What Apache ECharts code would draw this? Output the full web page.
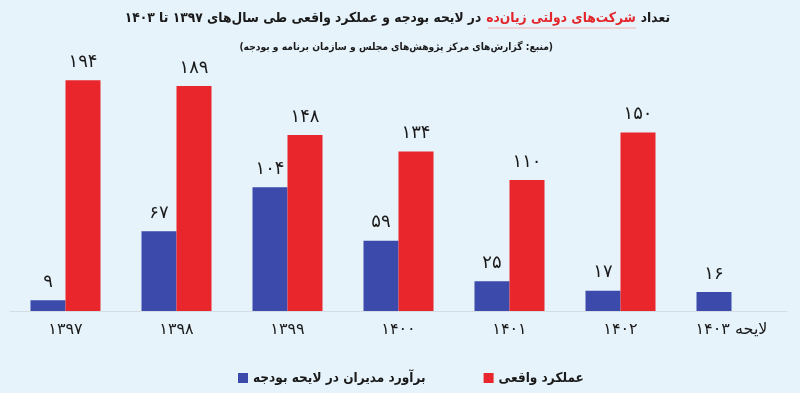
<!DOCTYPE html>
<html>
<head>
<meta charset="utf-8">
<script src="https://cdn.jsdelivr.net/npm/echarts@6/dist/echarts.min.js"></script>
<style>
  html, body { margin: 0; padding: 0; background: #e6f3fa; }
  #chart { width: 800px; height: 393px; direction: rtl; }
</style>
</head>
<body>
<div id="chart"></div>
<script>
const categories = ['۱۳۹۷', '۱۳۹۸', '۱۳۹۹', '۱۴۰۰', '۱۴۰۱', '۱۴۰۲', 'لایحه ۱۴۰۳'];
const budgetEstimate = [9, 67, 104, 59, 25, 17, 16];
const actualPerformance = [194, 189, 148, 134, 110, 150, null];
const seriesNames = ['برآورد مدیران در لایحه بودجه', 'عملکرد واقعی'];
const titleStart = 'تعداد';
const titleHighlight = 'شرکت‌های دولتی زیان‌ده';
const titleEnd = 'در لایحه بودجه و عملکرد واقعی طی سال‌های ۱۳۹۷ تا ۱۴۰۳';
const subtitle = '(منبع: گزارش‌های مرکز پژوهش‌های مجلس و سازمان برنامه و بودجه)';

const fa = n => String(n).replace(/\d/g, d => '۰۱۲۳۴۵۶۷۸۹'[d]);
const FONT = 'DejaVu Sans';
const FONTC = 'DejaVu Sans Condensed';

const chart = echarts.init(document.getElementById('chart'));
chart.setOption({
  backgroundColor: '#e6f3fa',
  title: [{
    text: '{a|' + titleEnd + '}{r|' + titleHighlight + '}{a|' + titleStart + '}',
    right: 125, top: 6,
    textStyle: {
      rich: {
        a: { fontFamily: FONTC, fontWeight: 'bold', fontSize: 13.7, color: '#1a1a1a' },
        r: { fontFamily: FONTC, fontWeight: 'bold', fontSize: 13.7, color: '#e3262c', padding: [0, 5] }
      }
    }
  }, {
    text: subtitle,
    right: 242, top: 37,
    textStyle: { fontFamily: FONTC, fontWeight: 'bold', fontSize: 10.2, color: '#1a1a1a' }
  }],
  graphic: [{
    type: 'line', silent: true,
    shape: { x1: 488, y1: 28, x2: 636, y2: 28 },
    style: { stroke: '#f2b3b5', lineWidth: 1 }
  }],
  legend: {
    left: 233, top: 366,
    itemWidth: 10, itemHeight: 10, itemGap: 58,
    icon: 'rect',
    textStyle: { fontFamily: FONTC, fontWeight: 'bold', fontSize: 13.5, color: '#1a1a1a' },
    data: seriesNames
  },
  grid: { left: 10, right: 13, top: 73, bottom: 82 },
  xAxis: {
    type: 'category',
    data: categories,
    axisLine: { lineStyle: { color: '#d3dde3', width: 1 } },
    axisTick: { show: false },
    axisLabel: { fontFamily: FONT, fontSize: 16, color: '#1a1a1a', margin: 11 }
  },
  yAxis: { type: 'value', min: 0, max: 200, show: false, splitLine: { show: false } },
  series: [{
    name: seriesNames[0], type: 'bar', data: budgetEstimate,
    barWidth: 35, barGap: '0%',
    itemStyle: { color: '#3b4aab' },
    label: { show: true, position: 'top', distance: 9, fontFamily: FONT, fontSize: 18, color: '#1a1a1a', formatter: p => fa(p.value) }
  }, {
    name: seriesNames[1], type: 'bar', data: actualPerformance,
    barWidth: 35, barGap: '0%',
    itemStyle: { color: '#e8262b' },
    label: { show: true, position: 'top', distance: 9, fontFamily: FONT, fontSize: 18, color: '#1a1a1a', formatter: p => fa(p.value) }
  }]
});
</script>
</body>
</html>
